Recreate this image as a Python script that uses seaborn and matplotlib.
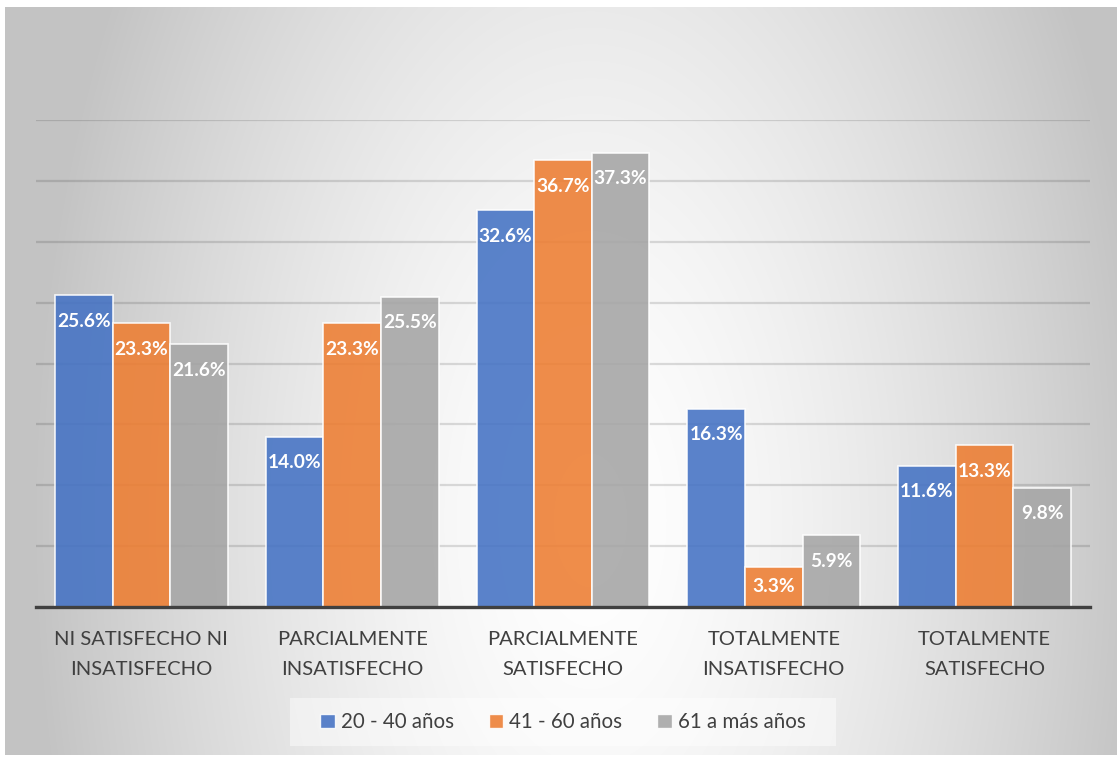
import numpy as np
import pandas as pd
import matplotlib
matplotlib.use("Agg")
import matplotlib.pyplot as plt
from matplotlib.patches import Rectangle
import seaborn as sns

# Satisfaction categories and age-group series (percent)
categorias = [
    "NI SATISFECHO NI\nINSATISFECHO",
    "PARCIALMENTE\nINSATISFECHO",
    "PARCIALMENTE\nSATISFECHO",
    "TOTALMENTE\nINSATISFECHO",
    "TOTALMENTE\nSATISFECHO",
]
grupos = ["20 - 40 años", "41 - 60 años", "61 a más años"]
edad_20_40 = [25.6, 14.0, 32.6, 16.3, 11.6]
edad_41_60 = [23.3, 23.3, 36.7, 3.3, 13.3]
edad_61_mas = [21.6, 25.5, 37.3, 5.9, 9.8]
colores = ["#4472C4", "#ED7D31", "#A5A5A5"]

df = pd.DataFrame({
    "categoria": categorias * 3,
    "grupo": [g for g in grupos for _ in categorias],
    "valor": edad_20_40 + edad_41_60 + edad_61_mas,
})

sns.set_theme(style="white")
plt.rcParams["font.family"] = ["Lato", "DejaVu Sans"]

W, H = 1120, 759
fig = plt.figure(figsize=(W / 100, H / 100), dpi=100, facecolor="white")

# Radial gradient chart background
bx0, by0, bx1, by1 = 5, 7, 1117, 755
bg = fig.add_axes([bx0 / W, 1 - by1 / H, (bx1 - bx0) / W, (by1 - by0) / H])
yy, xx = np.mgrid[by0:by1, bx0:bx1]
r = np.sqrt(((xx - 590) / 560.0) ** 2 + ((yy - 520) / 1025.0) ** 2)
shade = 255 - 60 * np.clip(r, 0, 1) ** 1.5
img = np.dstack([shade, shade, shade]) / 255.0
bg.imshow(img, aspect="auto", interpolation="bilinear")
bg.set_axis_off()

# Plot area
x0, x1, ybase, ytop = 36, 1090, 607, 120
ax = fig.add_axes([x0 / W, 1 - ybase / H, (x1 - x0) / W, (ybase - ytop) / H])
ax.patch.set_alpha(0)

sns.barplot(
    data=df, x="categoria", y="valor", hue="grupo",
    palette=colores, saturation=1, width=0.82, gap=0, alpha=0.88,
    edgecolor=(1, 1, 1, 0.4), linewidth=1.2, ax=ax, zorder=3,
)

ax.set_ylim(0, 40)
ax.set_yticks(np.arange(0, 41, 5))
ax.yaxis.grid(True, color="black", alpha=0.13, linewidth=1.6, zorder=0)
ax.set_axisbelow(True)
ax.tick_params(axis="y", left=False, labelleft=False)
ax.tick_params(axis="x", length=0, pad=17, labelsize=14.5, labelcolor="#404040")
for lab in ax.get_xticklabels():
    lab.set_linespacing(1.95)
ax.set_xlabel("")
ax.set_ylabel("")
for s in ["top", "right", "left"]:
    ax.spines[s].set_visible(False)
ax.spines["bottom"].set_color("#404040")
ax.spines["bottom"].set_linewidth(2.4)
ax.spines["bottom"].set_zorder(5)

# Value labels inside the top of each bar
offset = 2.14
for cont, serie in zip(ax.containers, [edad_20_40, edad_41_60, edad_61_mas]):
    for patch, v in zip(cont.patches, serie):
        cx = patch.get_x() + patch.get_width() / 2
        ypos = v - offset if v > 2 * offset else v / 2
        ax.text(cx, ypos, f"{v:.1f}%", ha="center", va="center",
                color="white", fontsize=13.8, fontweight="bold", zorder=6)

ax.legend_.remove()
handles = [Rectangle((0, 0), 1, 1, facecolor=c, alpha=0.88,
                     edgecolor=(1, 1, 1, 0.4)) for c in colores]
leg = fig.legend(
    handles, grupos, loc="center", bbox_to_anchor=(563 / W, 1 - 722 / H),
    ncol=3, frameon=False, fontsize=14.8,
    handlelength=0.7, handleheight=0.7, handletextpad=0.3,
    columnspacing=1.7, borderpad=0.3, borderaxespad=0,
)
for t in leg.get_texts():
    t.set_color("#404040")

# Translucent legend panel, wider than the entries
fig.canvas.draw()
bb = leg.get_window_extent()
px, py = 24, 8
panel = Rectangle(((bb.x0 - px) / W, (bb.y0 - py) / H),
                  (bb.width + 2 * px) / W, (bb.height + 2 * py) / H,
                  transform=fig.transFigure, facecolor="white", alpha=0.45,
                  edgecolor="none", zorder=1)
fig.patches.append(panel)
leg.set_zorder(2)

fig.savefig("out.png", dpi=100, facecolor="white")
